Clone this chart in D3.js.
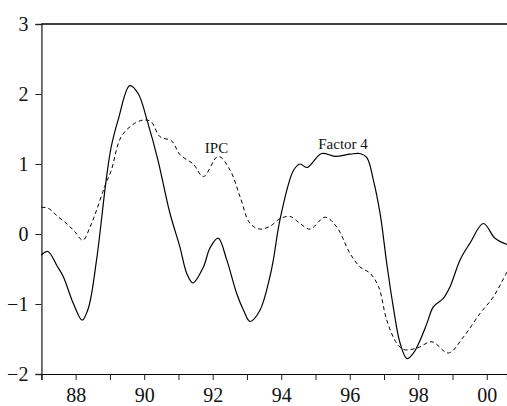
<!DOCTYPE html>
<html>
<head>
<meta charset="utf-8">
<script src="https://cdn.jsdelivr.net/npm/d3@7"></script>
<style>
  body { margin: 0; background: #fff; }
  svg { display: block; }
</style>
</head>
<body>
<svg></svg>
<script>
// Serier (år som decimaltal)
const factorYears = [1987.00, 1987.19, 1987.45, 1987.64, 1987.93, 1988.19, 1988.37, 1988.61, 1988.89, 1989.04,
  1989.24, 1989.58, 1989.82, 1990.11, 1990.40, 1990.75, 1991.04, 1991.24, 1991.42, 1991.73,
  1991.92, 1992.16, 1992.41, 1992.70, 1992.90, 1993.09, 1993.38, 1993.67, 1993.77, 1993.97,
  1994.36, 1994.55, 1994.75, 1995.18, 1995.57, 1996.01, 1996.30, 1996.50, 1996.69, 1996.89,
  1997.08, 1997.27, 1997.47, 1997.67, 1997.86, 1998.06, 1998.25, 1998.44, 1998.73, 1998.93,
  1999.22, 1999.51, 1999.90, 2000.24, 2000.59];
const factorValues = [-0.30, -0.25, -0.45, -0.61, -0.99, -1.23, -1.06, -0.37, 0.77, 1.25,
  1.63, 2.12, 2.01, 1.58, 1.06, 0.30, -0.18, -0.56, -0.70, -0.47,
  -0.20, -0.06, -0.37, -0.85, -1.09, -1.25, -1.09, -0.61, -0.37, 0.22,
  0.91, 1.00, 0.95, 1.15, 1.11, 1.14, 1.15, 1.09, 0.77, 0.28,
  -0.42, -1.04, -1.56, -1.78, -1.70, -1.51, -1.28, -1.04, -0.92, -0.75,
  -0.37, -0.13, 0.15, -0.06, -0.15];

const ipcYears = [1987.00, 1987.19, 1987.48, 1987.78, 1987.98, 1988.21, 1988.42, 1988.61, 1988.85, 1989.04,
  1989.33, 1989.72, 1990.02, 1990.21, 1990.46, 1990.80, 1991.05, 1991.43, 1991.73, 1992.16,
  1992.51, 1992.80, 1993.09, 1993.38, 1993.67, 1993.97, 1994.26, 1994.55, 1994.84, 1995.28,
  1995.62, 1996.01, 1996.30, 1996.59, 1996.84, 1997.08, 1997.37, 1997.57, 1997.96, 1998.40,
  1998.88, 1999.32, 1999.81, 2000.19, 2000.59];
const ipcValues = [0.38, 0.37, 0.25, 0.13, 0.03, -0.09, 0.10, 0.34, 0.68, 0.91,
  1.39, 1.58, 1.63, 1.60, 1.39, 1.33, 1.13, 1.00, 0.82, 1.11,
  0.91, 0.53, 0.15, 0.07, 0.11, 0.22, 0.25, 0.15, 0.07, 0.24,
  0.10, -0.28, -0.47, -0.56, -0.75, -1.23, -1.56, -1.65, -1.63, -1.54,
  -1.70, -1.47, -1.13, -0.90, -0.54];

const yTicks = [-2, -1, 0, 1, 2, 3];
const xTicks = d3.range(1987, 2001);
const xLabelYears = [1988, 1990, 1992, 1994, 1996, 1998, 2000];

const labels = [
  { text: "IPC", year: 1991.77, value: 1.16 },
  { text: "Factor 4", year: 1995.08, value: 1.22 }
];

const width = 507, height = 406;
const svg = d3.select("svg").attr("width", width).attr("height", height);
const font = "'Liberation Serif', 'Times New Roman', serif";

const x = d3.scaleLinear().domain([1987, 2000.59]).range([41.4, 507]);
const y = d3.scaleLinear().domain([-2, 3]).range([374, 24]);

svg.append("defs").append("clipPath").attr("id", "clip")
  .append("rect").attr("x", 41).attr("y", 0).attr("width", width - 41).attr("height", 380);

// Axlar
const yAxis = svg.append("g")
  .attr("transform", `translate(${x(1987)},0)`)
  .call(d3.axisLeft(y).tickValues(yTicks).tickSize(6).tickPadding(7).tickFormat(d3.format("d")));
yAxis.select(".domain").attr("stroke", "#444").attr("stroke-width", 1.5);

const xAxis = svg.append("g")
  .attr("transform", `translate(0,${y(-2)})`)
  .call(d3.axisBottom(x).tickValues(xTicks).tickSize(6).tickPadding(8)
    .tickFormat(d => xLabelYears.includes(d) ? String(d % 100).padStart(2, "0") : ""));
xAxis.select(".domain").attr("stroke", "#000").attr("stroke-width", 1.2);

svg.selectAll(".tick line").attr("stroke", "#222");
svg.selectAll(".tick text").attr("font-family", font).attr("font-size", 20).attr("fill", "#111");

// Övre ram
svg.append("line")
  .attr("x1", x(1987)).attr("x2", width)
  .attr("y1", y(3)).attr("y2", y(3))
  .attr("stroke", "#000").attr("stroke-width", 1.6);

const line = d3.line()
  .x(d => x(d[0]))
  .y(d => y(d[1]))
  .curve(d3.curveCatmullRom.alpha(0.5));

const factor = factorYears.map((yr, i) => [yr, factorValues[i]]);
const ipc = ipcYears.map((yr, i) => [yr, ipcValues[i]]);

const plot = svg.append("g").attr("clip-path", "url(#clip)");

plot.append("path").datum(ipc)
  .attr("d", line)
  .attr("fill", "none")
  .attr("stroke", "#000")
  .attr("stroke-width", 1)
  .attr("stroke-dasharray", "4,3");

plot.append("path").datum(factor)
  .attr("d", line)
  .attr("fill", "none")
  .attr("stroke", "#000")
  .attr("stroke-width", 1.2);

svg.selectAll("text.lbl").data(labels).enter().append("text")
  .attr("class", "lbl")
  .attr("x", d => x(d.year))
  .attr("y", d => y(d.value))
  .attr("font-family", font)
  .attr("font-size", 15)
  .attr("fill", "#111")
  .text(d => d.text);
</script>
</body>
</html>
